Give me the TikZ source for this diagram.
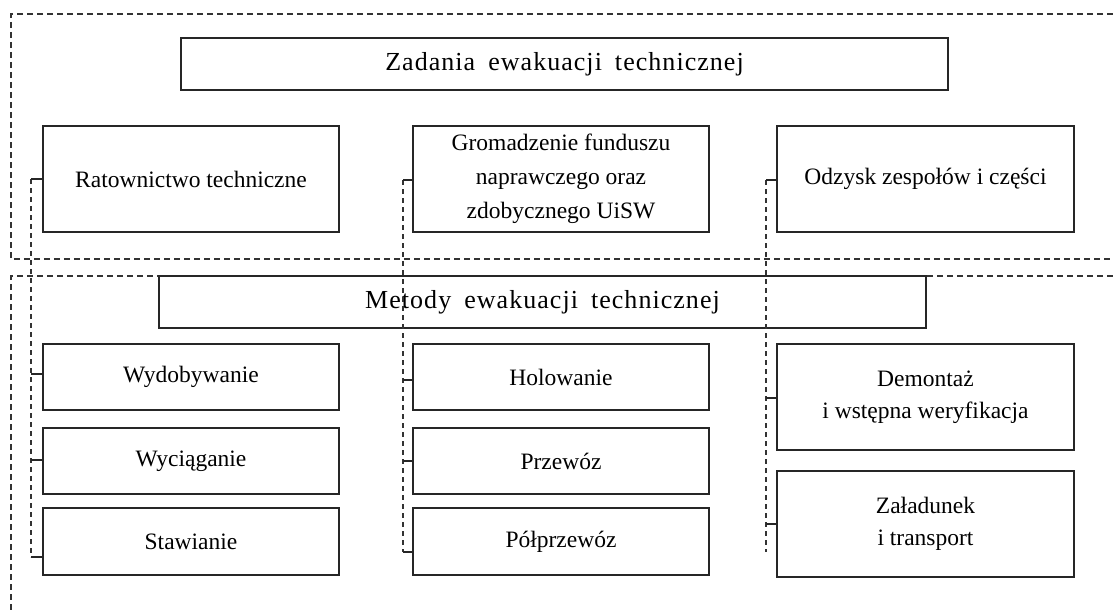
\documentclass[tikz,border=0pt]{standalone}
\usepackage{fontspec}
\setmainfont{Liberation Serif}
\newcommand{\wsp}{\hspace{13pt}}
\begin{document}
\begin{tikzpicture}[x=1pt,y=-1pt,
  box/.style={draw=black!85, line width=1.5pt, inner sep=0pt, align=center,
    font=\fontsize{23.5}{34}\selectfont},
  head/.style={box, font=\fontsize{26}{30}\selectfont\addfontfeature{LetterSpace=4}},
  frame/.style={draw=black!80, line width=1.3pt, dash pattern=on 6pt off 4pt},
  conn/.style={draw=black!80, line width=1.3pt, dash pattern=on 5pt off 4pt},
  tick/.style={draw=black!85, line width=1.2pt}]
\useasboundingbox (0,0) rectangle (1113,610);
% dashed frames
\draw[frame] (1113,14) -- (11,14) -- (11,259) -- (1113,259);
\draw[frame] (1113,276) -- (11,276) -- (11,610);
% boxes
\node[head, minimum width=767pt, minimum height=52pt, fill=white] (top) at (564.5,64) {Zadania\wsp ewakuacji\wsp technicznej};
\node[box, minimum width=296pt, minimum height=106pt] (r1) at (191,179) {Ratownictwo techniczne};
\node[box, minimum width=296pt, minimum height=106pt] (r2) at (561,179) {Gromadzenie funduszu\\naprawczego oraz\\zdobycznego UiSW};
\node[box, minimum width=297pt, minimum height=106pt] (r3) at (925.5,179) {Odzysk zespołów i części};
\node[head, minimum width=767pt, minimum height=52pt] (met) at (542.5,302) {Metody\wsp ewakuacji\wsp technicznej};
\node[box, minimum width=296pt, minimum height=66pt] (a1) at (191,377) {Wydobywanie};
\node[box, minimum width=296pt, minimum height=66pt] (a2) at (191,461) {Wyciąganie};
\node[box, minimum width=296pt, minimum height=67pt] (a3) at (191,541.5) {Stawianie};
\node[box, minimum width=296pt, minimum height=66pt] (b1) at (561,377) {Holowanie};
\node[box, minimum width=296pt, minimum height=66pt] (b2) at (561,461) {Przewóz};
\node[box, minimum width=296pt, minimum height=67pt] (b3) at (561,541.5) {Półprzewóz};
\node[box, minimum width=297pt, minimum height=106pt, font=\fontsize{23.5}{32}\selectfont] (c1) at (925.5,397) {Demontaż\\i wstępna weryfikacja};
\node[box, minimum width=297pt, minimum height=106pt, font=\fontsize{23.5}{32}\selectfont] (c2) at (925.5,524) {Załadunek\\i transport};
% connector coordinates
\coordinate (L1) at (31,179); \coordinate (L2) at (31,374);
\coordinate (L3) at (31,460); \coordinate (L4) at (31,557);
\coordinate (M1) at (403,180); \coordinate (M2) at (403,380);
\coordinate (M3) at (403,461); \coordinate (M4) at (403,552);
\coordinate (R1) at (766,180); \coordinate (R2) at (766,398);
\coordinate (R3) at (766,524); \coordinate (R4) at (766,552);
\draw[conn] (L1) -- (L4);
\draw[conn] (M1) -- (M4);
\draw[conn] (R1) -- (R4);
\draw[tick] (L1) -- (L1 -| r1.west);
\draw[tick] (L2) -- (L2 -| a1.west);
\draw[tick] (L3) -- (L3 -| a2.west);
\draw[tick] (L4) -- (L4 -| a3.west);
\draw[tick] (M1) -- (M1 -| r2.west);
\draw[tick] (M2) -- (M2 -| b1.west);
\draw[tick] (M3) -- (M3 -| b2.west);
\draw[tick] (M4) -- (M4 -| b3.west);
\draw[tick] (R1) -- (R1 -| r3.west);
\draw[tick] (R2) -- (R2 -| c1.west);
\draw[tick] (R3) -- (R3 -| c2.west);
\end{tikzpicture}
\end{document}
